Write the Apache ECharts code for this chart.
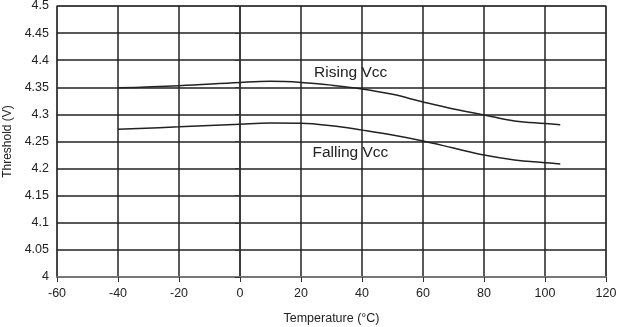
<!DOCTYPE html>
<html><head><meta charset="utf-8">
<script src="https://cdn.jsdelivr.net/npm/echarts@6/dist/echarts.min.js"></script>
<style>html,body{margin:0;padding:0;background:#fff}#c{width:619px;height:327px}</style>
</head><body><div id="c"></div>
<script>
const xTicks = [-60,-40,-20,0,20,40,60,80,100,120];
const yTicks = [4,4.05,4.1,4.15,4.2,4.25,4.3,4.35,4.4,4.45,4.5];
const temps = [-40,-20,0,10,20,30,40,50,60,70,80,90,100,105];
const rising = [4.349,4.353,4.359,4.361,4.359,4.354,4.347,4.337,4.323,4.310,4.299,4.288,4.283,4.281];
const falling = [4.2725,4.277,4.282,4.284,4.2836,4.279,4.271,4.262,4.251,4.238,4.225,4.216,4.211,4.2085];
const labels = [{name:'Rising Vcc',x:36.3,y:4.377},{name:'Falling Vcc',x:36.2,y:4.229}];

const chart = echarts.init(document.getElementById('c'));
const font = 'Liberation Sans, Arial, Helvetica, sans-serif';
chart.setOption({
  animation:false,
  grid:{left:57,right:13,top:6,bottom:50,show:true,borderColor:'#999',borderWidth:1.5,
    containLabel:false,outerBoundsMode:'none'},
  xAxis:{type:'value',min:-60,max:120,interval:20,
    name:'Temperature (°C)',nameLocation:'middle',nameGap:35,
    nameTextStyle:{color:'#222',fontSize:12.5,fontFamily:font},
    axisLine:{lineStyle:{color:'#777',width:2}},
    axisTick:{show:true,length:5,lineStyle:{color:'#333'}},
    axisLabel:{color:'#222',fontSize:12.5,fontFamily:font,margin:10},
    splitLine:{show:true,lineStyle:{color:'#222',width:1.5}}},
  yAxis:{type:'value',min:4,max:4.5,interval:0.05,
    name:'Threshold (V)',nameLocation:'middle',nameGap:43,
    nameTextStyle:{color:'#222',fontSize:12,fontFamily:font},
    axisLine:{show:true,lineStyle:{color:'#333',width:1.5}},
    axisTick:{show:true,length:5,lineStyle:{color:'#333'}},
    axisLabel:{color:'#222',fontSize:12.5,fontFamily:font,margin:8,
      formatter:v=>String(+v.toFixed(2))},
    splitLine:{show:true,lineStyle:{color:'#222',width:1.5}}},
  series:[
    {type:'line',smooth:0.4,symbol:'none',data:temps.map((t,i)=>[t,rising[i]]),
     lineStyle:{color:'#222',width:1.5},
     markPoint:{symbol:'circle',symbolSize:0,silent:true,
       data:[{coord:[labels[0].x,labels[0].y],label:{show:true,formatter:labels[0].name,position:'inside',color:'#222',fontSize:15.5,fontFamily:font}}]}},
    {type:'line',smooth:0.4,symbol:'none',data:temps.map((t,i)=>[t,falling[i]]),
     lineStyle:{color:'#222',width:1.5},
     markPoint:{symbol:'circle',symbolSize:0,silent:true,
       data:[{coord:[labels[1].x,labels[1].y],label:{show:true,formatter:labels[1].name,position:'inside',color:'#222',fontSize:15.5,fontFamily:font}}]}}
  ]
});
</script></body></html>
